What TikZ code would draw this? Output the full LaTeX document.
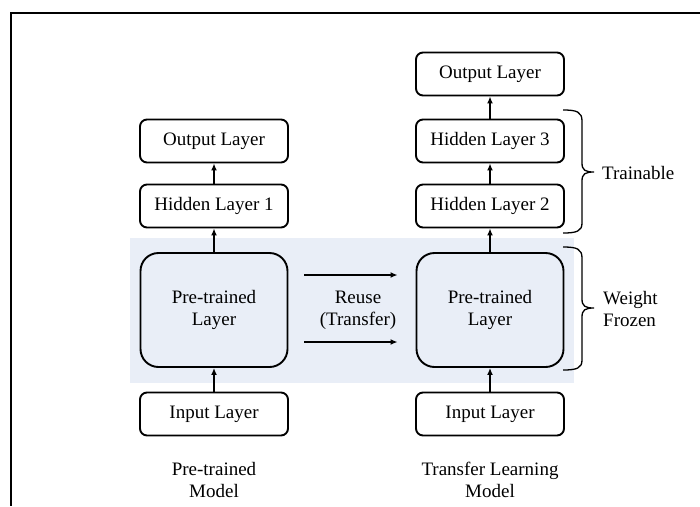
\documentclass[tikz,border=0pt]{standalone}
\usepackage{fontspec}
\setmainfont{Liberation Serif}
\usetikzlibrary{arrows.meta}
\definecolor{shadebg}{RGB}{233,238,247}
\begin{document}
\begin{tikzpicture}[x=1pt,y=-1pt,font=\fontsize{19}{22}\selectfont,
  layer/.style={draw,line width=1.9pt,rounded corners=7pt,minimum width=148pt,minimum height=43pt,inner sep=0pt},
  big/.style={draw,line width=1.9pt,rounded corners=18pt,minimum width=147pt,minimum height=114pt,inner sep=0pt,align=center},
  arr/.style={line width=1.9pt,-{Latex[length=7pt,width=6pt]}},
  lbl/.style={align=center,inner sep=0pt},
  bracestyle/.style={line width=1.3pt}]
\useasboundingbox (0,0) rectangle (700,506);
\fill[shadebg] (130,238) rectangle (574,383);
\draw[line width=2pt] (700,13) -- (11,13) -- (11,506);
% left model
\node[layer] (lo) at (214,141) {Output Layer};
\node[layer] (lh) at (214,206) {Hidden Layer 1};
\node[big] (lp) at (214,310) {Pre-trained\\Layer};
\node[layer] (li) at (214,414) {Input Layer};
% right model
\node[layer] (ro) at (490,74) {Output Layer};
\node[layer] (rh3) at (490,141) {Hidden Layer 3};
\node[layer] (rh2) at (490,206) {Hidden Layer 2};
\node[big] (rp) at (490,310) {Pre-trained\\Layer};
\node[layer] (ri) at (490,414) {Input Layer};
% arrows
\draw[arr] (li) -- (lp);
\draw[arr] (lp) -- (lh);
\draw[arr] (lh) -- (lo);
\draw[arr] (ri) -- (rp);
\draw[arr] (rp) -- (rh2);
\draw[arr] (rh2) -- (rh3);
\draw[arr] (rh3) -- (ro);
\draw[arr] ([xshift=16pt,yshift=35pt]lp.east) -- ([xshift=-18pt,yshift=35pt]rp.west);
\draw[arr] ([xshift=16pt,yshift=-32pt]lp.east) -- ([xshift=-18pt,yshift=-32pt]rp.west);
\node[lbl] (reuse) at (358,310) {Reuse\\(Transfer)};
% braces
\draw[bracestyle] (563,110) .. controls (577,110) and (582,112) .. (582,121) -- (582,163)
  .. controls (582,170) and (585,172) .. (594,172)
  .. controls (585,172) and (582,174) .. (582,181) -- (582,223)
  .. controls (582,231) and (577,233) .. (563,233);
\draw[bracestyle] (563,247) .. controls (577,247) and (582,249) .. (582,258) -- (582,299)
  .. controls (582,306) and (585,308) .. (594,308)
  .. controls (585,308) and (582,310) .. (582,317) -- (582,360)
  .. controls (582,368) and (577,370) .. (563,370);
\node[anchor=west,inner sep=0pt] (train) at (602,173) {Trainable};
\node[anchor=west,align=left,inner sep=0pt] (frozen) at (603,309) {Weight\\Frozen};
% captions
\node[lbl] (cl) at (214,480) {Pre-trained\\Model};
\node[lbl] (cr) at (490,480) {Transfer Learning\\Model};
\end{tikzpicture}
\end{document}
